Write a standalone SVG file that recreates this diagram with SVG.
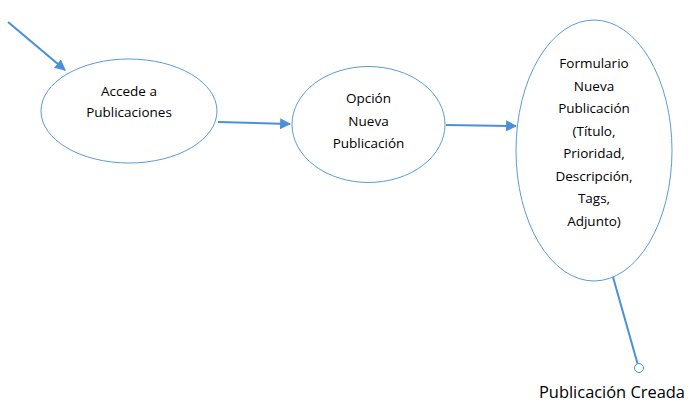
<svg xmlns="http://www.w3.org/2000/svg" width="697" height="410" viewBox="0 0 697 410">
<style>
.n{fill:#fff;stroke:#5b9bd5;stroke-width:1}
.t{font-family:"Open Sans","Liberation Sans",sans-serif;font-size:13.5px;fill:#000;text-anchor:middle}
.c{stroke:#4a90d9;stroke-width:2;fill:none}
</style>
<defs>
<marker id="ah" viewBox="0 0 10 10" refX="9" refY="5" markerWidth="5.5" markerHeight="5.5" orient="auto" markerUnits="strokeWidth">
<path d="M0,0 L10,5 L0,10 z" fill="#4a90d9"/>
</marker>
</defs>
<rect width="697" height="410" fill="#fff"/>
<g id="n1">
<ellipse class="n" cx="129" cy="111" rx="88" ry="52"/>
<text class="t" x="129" y="96">Accede a</text>
<text class="t" x="129" y="117">Publicaciones</text>
</g>
<g id="n2">
<ellipse class="n" cx="368.5" cy="124.5" rx="76.5" ry="58"/>
<text class="t" x="368.5" y="103">Opción</text>
<text class="t" x="368.5" y="126">Nueva</text>
<text class="t" x="368.5" y="148">Publicación</text>
</g>
<g id="n3">
<ellipse class="n" cx="594" cy="150.5" rx="78" ry="130.5"/>
<text class="t" x="594" y="68">Formulario</text>
<text class="t" x="594" y="91">Nueva</text>
<text class="t" x="594" y="113">Publicación</text>
<text class="t" x="594" y="136">(Título,</text>
<text class="t" x="594" y="158">Prioridad,</text>
<text class="t" x="594" y="181">Descripción,</text>
<text class="t" x="594" y="203">Tags,</text>
<text class="t" x="594" y="226">Adjunto)</text>
</g>
<g id="end">
<circle cx="639" cy="368" r="4.5" fill="#fff" stroke="#4a90d9" stroke-width="1"/>
<text x="539" y="398" font-family="'Open Sans','Liberation Sans',sans-serif" font-size="17" fill="#000" textLength="146" lengthAdjust="spacingAndGlyphs">Publicación Creada</text>
</g>
<g id="connectors">
<line class="c" x1="8" y1="22" x2="65" y2="70" marker-end="url(#ah)"/>
<line class="c" x1="218" y1="122" x2="290" y2="124" marker-end="url(#ah)"/>
<line class="c" x1="446" y1="125" x2="516" y2="126" marker-end="url(#ah)"/>
<line class="c" x1="613" y1="277" x2="637.5" y2="363.5"/>
</g>
</svg>
